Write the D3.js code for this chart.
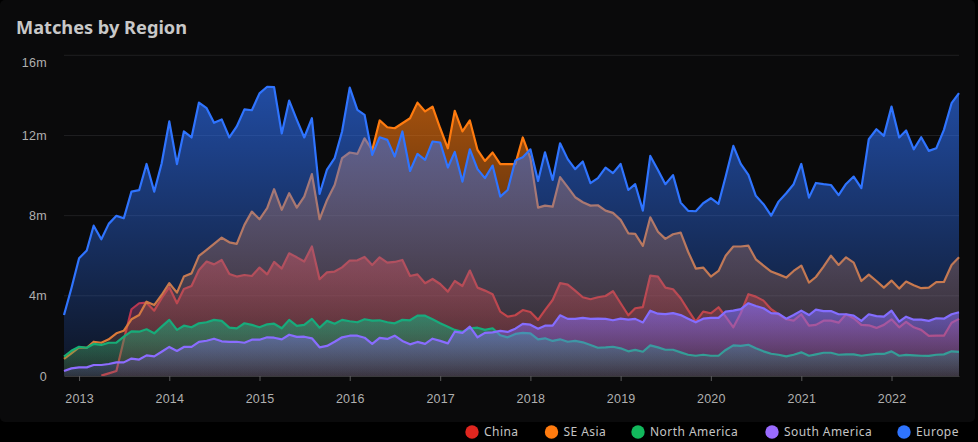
<!DOCTYPE html>
<html>
<head>
<meta charset="utf-8">
<script src="https://cdn.jsdelivr.net/npm/d3@7"></script>
<style>
  html, body { margin: 0; background: #000; }
  svg { display: block; font-family: "Noto Sans", "Open Sans", sans-serif; }
</style>
</head>
<body>
<svg id="chart" width="978" height="442"></svg>
<script>
const WIDTH = 978
const HEIGHT = 442

// monthly values in millions, Nov 2012 to Oct 2022
const months = d3.utcMonth.range(new Date(Date.UTC(2012, 10, 1)), new Date(Date.UTC(2022, 10, 1)))
const yearTicks = [2013, 2014, 2015, 2016, 2017, 2018, 2019, 2020, 2021, 2022]
const valueTicks = [0, 4, 8, 12, 16]

const china = [null, null, null, null, null, 0.02, 0.13, 0.25, 1.8, 3.33, 3.63, 3.66, 3.26, 3.88, 4.43, 3.63, 4.34, 4.49, 5.29, 5.71,
  5.57, 5.79, 5.09, 4.96, 5.04, 4.99, 5.41, 5.07, 5.69, 5.36, 6.12, 5.92, 5.71, 6.46, 4.83, 5.17, 5.21, 5.42, 5.76, 5.77,
  5.94, 5.54, 5.92, 5.66, 5.69, 5.79, 4.99, 5.07, 4.63, 4.84, 4.59, 4.21, 4.74, 4.49, 5.26, 4.41, 4.26, 4.08, 3.21, 2.96,
  3.03, 3.29, 3.19, 2.8, 3.29, 3.79, 4.63, 4.56, 4.26, 3.93, 3.83, 3.93, 3.99, 4.23, 3.63, 3.03, 3.38, 3.44, 5.01, 4.96,
  4.41, 4.33, 3.88, 3.29, 2.71, 3.21, 3.13, 3.43, 2.96, 2.43, 3.13, 4.08, 3.96, 3.76, 3.33, 3.08, 2.83, 2.76, 3.08, 2.51,
  2.55, 2.76, 2.76, 2.66, 3.08, 2.88, 2.55, 2.53, 2.4, 2.55, 2.83, 2.43, 2.7, 2.43, 2.3, 2.0, 2.01, 2.01, 2.66, 2.85]

const seAsia = [0.85, 1.13, 1.43, 1.41, 1.71, 1.66, 1.83, 2.13, 2.26, 2.83, 3.04, 3.71, 3.54, 4.04, 4.63, 4.16, 4.96, 5.12, 5.99, 6.29,
  6.59, 6.9, 6.67, 6.59, 7.54, 8.2, 7.82, 8.37, 9.32, 8.29, 9.12, 8.4, 8.95, 10.07, 7.82, 8.77, 9.53, 10.87, 11.15, 11.08,
  11.86, 11.28, 12.75, 12.41, 12.36, 12.61, 12.86, 13.64, 13.2, 13.44, 12.36, 11.36, 13.23, 12.2, 12.75, 11.28, 10.73, 11.15, 10.57, 10.57,
  10.57, 11.9, 10.87, 8.4, 8.5, 8.45, 9.92, 9.42, 8.92, 8.67, 8.5, 8.52, 8.25, 8.14, 7.79, 7.12, 7.09, 6.49, 7.92, 7.2,
  6.84, 7.07, 7.15, 6.2, 5.36, 5.41, 4.96, 5.24, 6.0, 6.46, 6.46, 6.5, 5.82, 5.51, 5.21, 5.07, 4.91, 5.24, 5.51, 4.66,
  4.94, 5.46, 6.0, 5.54, 5.92, 5.66, 4.74, 5.06, 4.74, 4.41, 4.76, 4.36, 4.71, 4.53, 4.38, 4.41, 4.68, 4.69, 5.54, 5.92]

const northAmerica = [0.97, 1.26, 1.46, 1.41, 1.6, 1.55, 1.66, 1.66, 1.96, 2.23, 2.21, 2.33, 2.13, 2.46, 2.8, 2.3, 2.51, 2.43, 2.63, 2.68,
  2.8, 2.75, 2.41, 2.38, 2.63, 2.55, 2.43, 2.58, 2.61, 2.38, 2.8, 2.5, 2.55, 2.85, 2.41, 2.75, 2.61, 2.8, 2.73, 2.68,
  2.83, 2.76, 2.78, 2.68, 2.63, 2.8, 2.78, 3.01, 3.01, 2.83, 2.63, 2.46, 2.3, 2.21, 2.38, 2.41, 2.3, 2.38, 2.03, 1.93,
  2.1, 2.15, 2.13, 1.83, 1.88, 1.75, 1.83, 1.71, 1.75, 1.68, 1.55, 1.41, 1.43, 1.46, 1.38, 1.23, 1.3, 1.21, 1.53, 1.43,
  1.31, 1.31, 1.18, 1.06, 1.01, 1.06, 1.01, 1.01, 1.3, 1.53, 1.5, 1.56, 1.38, 1.23, 1.11, 1.06, 0.98, 1.06, 1.18, 1.01,
  1.08, 1.16, 1.16, 1.06, 1.08, 1.08, 1.01, 1.06, 1.1, 1.1, 1.23, 1.01, 1.05, 1.03, 1.01, 1.0, 1.06, 1.08, 1.23, 1.2]

const southAmerica = [0.25, 0.38, 0.43, 0.43, 0.55, 0.55, 0.6, 0.68, 0.68, 0.87, 0.82, 1.03, 0.98, 1.21, 1.45, 1.25, 1.45, 1.45, 1.7, 1.76,
  1.86, 1.73, 1.7, 1.71, 1.66, 1.81, 1.81, 1.93, 1.91, 1.83, 2.06, 1.95, 1.96, 1.88, 1.43, 1.5, 1.71, 1.93, 2.01, 2.01,
  1.91, 1.6, 1.9, 1.85, 2.01, 1.75, 1.58, 1.7, 1.6, 1.86, 1.75, 1.63, 2.21, 2.15, 2.46, 1.93, 2.15, 2.18, 2.25, 2.2,
  2.36, 2.6, 2.56, 2.36, 2.51, 2.51, 3.03, 2.85, 2.85, 2.9, 2.85, 2.86, 2.85, 2.78, 2.86, 2.81, 2.85, 2.67, 3.26, 3.11,
  3.09, 3.14, 3.04, 2.86, 2.68, 2.86, 2.9, 2.9, 3.21, 3.26, 3.34, 3.63, 3.49, 3.38, 3.14, 3.11, 2.86, 3.04, 3.26, 3.04,
  3.31, 3.24, 3.24, 3.08, 3.08, 3.01, 2.75, 3.08, 2.99, 2.96, 3.26, 2.71, 2.96, 2.81, 2.81, 2.75, 2.88, 2.86, 3.08, 3.18]

const europe = [3.04, 4.38, 5.87, 6.26, 7.5, 6.82, 7.59, 7.99, 7.87, 9.2, 9.27, 10.58, 9.2, 10.6, 12.7, 10.57, 12.2, 11.9, 13.64, 13.36,
  12.63, 12.8, 11.9, 12.45, 13.3, 13.26, 14.1, 14.43, 14.41, 12.1, 13.74, 12.78, 11.9, 12.86, 9.08, 10.3, 10.87, 12.2, 14.39, 13.28,
  13.03, 11.03, 11.91, 11.78, 10.95, 12.2, 10.23, 11.08, 10.78, 11.7, 11.65, 10.4, 11.18, 9.7, 11.31, 10.32, 9.87, 10.5, 8.95, 9.28,
  10.75, 10.91, 11.31, 9.73, 11.16, 9.78, 11.61, 10.82, 10.32, 10.7, 9.62, 9.87, 10.4, 10.12, 10.58, 9.28, 9.57, 8.25, 10.98, 10.28,
  9.57, 10.02, 8.65, 8.24, 8.22, 8.62, 8.87, 8.59, 9.95, 11.48, 10.58, 10.03, 8.99, 8.57, 8.0, 8.7, 9.12, 9.57, 10.58, 8.9,
  9.63, 9.57, 9.53, 9.02, 9.58, 9.95, 9.37, 11.81, 12.31, 11.98, 13.44, 11.9, 12.25, 11.31, 11.91, 11.23, 11.36, 12.28, 13.61, 14.11]

const seriesNames = ['China', 'SE Asia', 'North America', 'South America', 'Europe']
const seriesValues = [china, seAsia, northAmerica, southAmerica, europe]
const seriesColors = ['#e0261f', '#ff7b0f', '#12b85c', '#9a6bff', '#2f74ff']
const legendX = [472, 551.5, 638, 772, 904]

const svg = d3.select('#chart')

svg.append('rect')
  .attr('width', 975).attr('height', 422).attr('rx', 5)
  .attr('fill', '#0a0a0b')

svg.append('text')
  .attr('x', 16).attr('y', 34)
  .attr('font-size', 18.2).attr('font-weight', 700)
  .attr('fill', '#c8c8c8')
  .text('Matches by Region')

const x = d3.scaleUtc().domain([months[0], months[months.length - 1]]).range([64, 959])
const y = d3.scaleLinear().domain([0, 16]).range([376, 55.3])

// grid sits under the areas
svg.append('g')
  .selectAll('line')
  .data(valueTicks.filter(d => d > 0))
  .join('line')
  .attr('x1', 64).attr('x2', 959)
  .attr('y1', d => y(d)).attr('y2', d => y(d))
  .attr('stroke', '#1f1f21')

const defs = svg.append('defs')
seriesNames.forEach((name, i) => {
  const grad = defs.append('linearGradient')
    .attr('id', `fade-${i}`)
    .attr('x1', 0).attr('y1', 0).attr('x2', 0).attr('y2', 1)
  grad.append('stop').attr('offset', 0).attr('stop-color', seriesColors[i]).attr('stop-opacity', 0.62)
  grad.append('stop').attr('offset', 1).attr('stop-color', seriesColors[i]).attr('stop-opacity', 0.1)
})

const area = d3.area()
  .defined(d => d !== null)
  .x((d, i) => x(months[i]))
  .y0(y(0))
  .y1(d => y(d))

const line = d3.line()
  .defined(d => d !== null)
  .x((d, i) => x(months[i]))
  .y(d => y(d))

const layers = svg.append('g')
  .selectAll('g')
  .data(seriesValues)
  .join('g')

layers.append('path')
  .attr('d', d => area(d))
  .attr('fill', (d, i) => `url(#fade-${i})`)

layers.append('path')
  .attr('d', d => line(d))
  .attr('fill', 'none')
  .attr('stroke', (d, i) => seriesColors[i])
  .attr('stroke-width', 2.2)
  .attr('stroke-linejoin', 'round')

const xAxis = svg.append('g')
  .attr('transform', `translate(0,${y(0)})`)
  .call(d3.axisBottom(x)
    .tickValues(yearTicks.map(yr => new Date(Date.UTC(yr, 0, 1))))
    .tickFormat(d3.utcFormat('%Y'))
    .tickSize(5)
    .tickSizeOuter(0)
    .tickPadding(13))
xAxis.select('.domain').attr('stroke', '#3a3a3c')
xAxis.selectAll('.tick line').attr('stroke', '#5a5a5c')
xAxis.selectAll('text')
  .attr('font-family', 'inherit').attr('font-size', 12.5).attr('fill', '#b0b0b0').attr('letter-spacing', 0.2)

const yAxis = svg.append('g')
  .attr('transform', 'translate(47,0)')
  .call(d3.axisLeft(y)
    .tickValues(valueTicks)
    .tickFormat(d => d === 0 ? '0' : `${d}m`)
    .tickSize(0)
    .tickPadding(0))
yAxis.select('.domain').remove()
yAxis.selectAll('text')
  .attr('font-family', 'inherit').attr('font-size', 12.5).attr('fill', '#b0b0b0').attr('letter-spacing', 0.3)
// top label is pushed down inside the plot edge
yAxis.selectAll('.tick').filter(d => d === 16).select('text').attr('y', 7.5)

const legend = svg.append('g')
  .selectAll('g')
  .data(seriesNames)
  .join('g')
  .attr('transform', (d, i) => `translate(${legendX[i]},432)`)

legend.append('circle')
  .attr('r', 6.7)
  .attr('fill', (d, i) => seriesColors[i])

legend.append('text')
  .attr('x', 12).attr('dy', '0.36em')
  .attr('font-size', 12).attr('letter-spacing', 0.45)
  .attr('fill', '#c4c4c4')
  .text(d => d)
</script>
</body>
</html>
